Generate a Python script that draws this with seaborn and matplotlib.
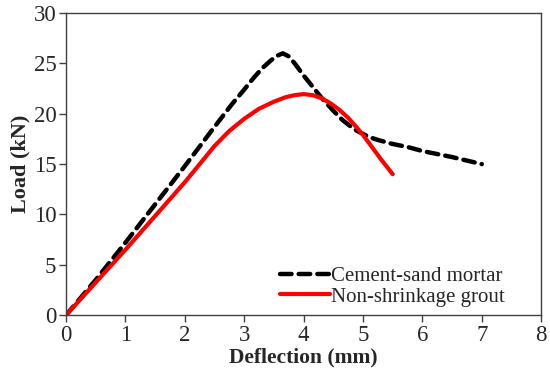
import pandas as pd
import matplotlib
matplotlib.use('Agg')
import matplotlib.pyplot as plt
import seaborn as sns

# Load-deflection curves
mortar_x = [0, 0.5, 1.0, 1.5, 2.0, 2.5, 2.8, 3.0, 3.15, 3.3, 3.45, 3.55, 3.65, 3.75, 3.85, 4.0, 4.15, 4.3,
            4.5, 4.65, 4.8, 4.9, 5.0, 5.1, 5.25, 5.5, 5.75, 6.0, 6.5, 7.0]
mortar_y = [0, 3.5, 7.2, 11.0, 14.8, 18.7, 21.0, 22.4, 23.5, 24.5, 25.3, 25.75, 26.0, 25.7, 25.0, 23.8, 22.7, 21.6,
            20.3, 19.4, 18.7, 18.3, 18.0, 17.7, 17.4, 17.0, 16.7, 16.3, 15.7, 15.0]

grout_x = [0, 1.0, 2.0, 2.25, 2.5, 2.75, 3.0, 3.25, 3.5, 3.7, 3.85, 4.0, 4.15, 4.3, 4.45, 4.6, 4.75, 4.9, 5.0,
           5.15, 5.3, 5.5]
grout_y = [0, 6.5, 13.2, 15.0, 16.8, 18.3, 19.5, 20.5, 21.2, 21.65, 21.85, 21.95, 21.85, 21.55, 21.05, 20.4, 19.6, 18.6, 17.9,
           16.7, 15.5, 14.0]

mortar = pd.DataFrame({'Deflection': mortar_x, 'Load': mortar_y})
grout = pd.DataFrame({'Deflection': grout_x, 'Load': grout_y})

sns.set_style("white")
plt.rcParams['font.family'] = ['Liberation Serif', 'DejaVu Serif']

fig, ax = plt.subplots(figsize=(5.5, 3.73), dpi=100)
fig.subplots_adjust(left=0.12, right=0.984, top=0.965, bottom=0.155)

sns.lineplot(data=mortar, x='Deflection', y='Load', ax=ax, color='black', lw=3.2,
             sort=False, estimator=None, label='Cement-sand mortar')
ax.lines[-1].set_dashes((2.6, 1.6))
ax.lines[-1].set_dash_capstyle('round')
sns.lineplot(data=grout, x='Deflection', y='Load', ax=ax, color='#ff0000', lw=3,
             sort=False, estimator=None, label='Non-shrinkage grout')
ax.lines[-1].set_solid_capstyle('round')

ax.set_xlim(0, 8)
ax.set_ylim(0, 30)
ax.set_xticks(range(0, 9))
ax.set_yticks(range(0, 31, 5))
ax.set_xlabel('Deflection (mm)', fontsize=15.5, fontweight='bold', labelpad=1)
ax.set_ylabel('Load (kN)', fontsize=16, fontweight='bold', labelpad=2)
ax.tick_params(axis='both', labelsize=16.5, direction='out', length=5, width=1,
               color='#404040', bottom=True, left=True, pad=2)
for s in ax.spines.values():
    s.set_color('#404040')
    s.set_linewidth(1)

leg = ax.legend(loc='lower right', bbox_to_anchor=(0.955, -0.02), frameon=False, fontsize=15,
                handlelength=2.4, handletextpad=0.05, labelspacing=0.05, borderaxespad=0.3)

plt.savefig('out.png', dpi=100)
